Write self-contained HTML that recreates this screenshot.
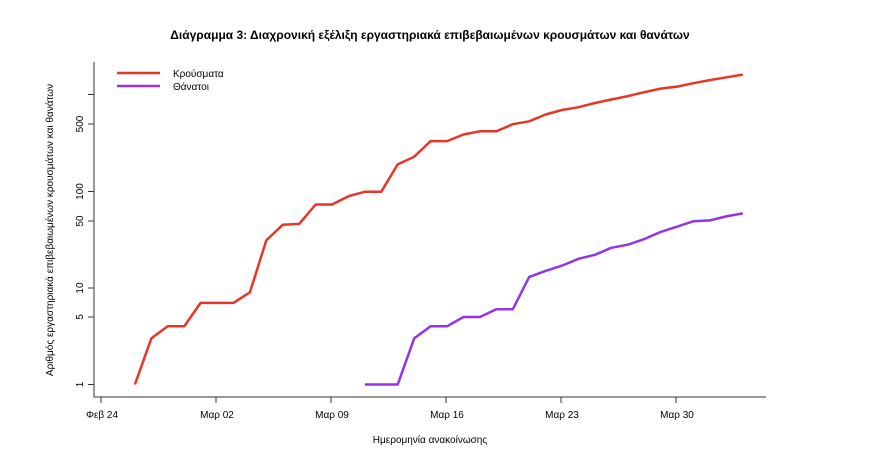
<!DOCTYPE html>
<html><head><meta charset="utf-8"><style>body{margin:0;background:#fff}svg{display:block}text{font-family:"Liberation Sans",sans-serif;fill:#000}</style></head><body>
<svg width="870" height="468" viewBox="0 0 870 468" xmlns="http://www.w3.org/2000/svg">
<text x="430" y="39" font-size="12" font-weight="bold" text-anchor="middle">Διάγραμμα 3: Διαχρονική εξέλιξη εργαστηριακά επιβεβαιωμένων κρουσμάτων και θανάτων</text>
<g stroke="#333" stroke-width="1" fill="none">
<path d="M94,62V397H766"/>
<path d="M94,384.5h-6M94,317h-6M94,288h-6M94,221h-6M94,191.5h-6M94,124h-6M94,94.5h-6"/>
<path d="M101,397v6M216,397v6M331,397v6M446,397v6M561,397v6M676,397v6"/>
</g>
<g font-size="10" text-anchor="middle">
<text transform="translate(83,384.5) rotate(-90)">1</text>
<text transform="translate(83,317) rotate(-90)">5</text>
<text transform="translate(83,288) rotate(-90)">10</text>
<text transform="translate(83,221) rotate(-90)">50</text>
<text transform="translate(83,191.5) rotate(-90)">100</text>
<text transform="translate(83,124) rotate(-90)">500</text>
<text x="102" y="418">Φεβ 24</text>
<text x="217" y="418">Μαρ 02</text>
<text x="332" y="418">Μαρ 09</text>
<text x="447" y="418">Μαρ 16</text>
<text x="562" y="418">Μαρ 23</text>
<text x="677" y="418">Μαρ 30</text>
<text x="430" y="443">Ημερομηνία ανακοίνωσης</text>
<text transform="translate(53,230) rotate(-90)">Αριθμός εργαστηριακά επιβεβαιωμένων κρουσμάτων και θανάτων</text>
</g>
<g fill="none" stroke-width="2.5" stroke-linejoin="round">
<g transform="translate(1,0)">
<polyline stroke="#e8352a" points="133.9,384.5 150.3,338.4 166.7,326.3 183.2,326.3 199.6,302.9 216.0,302.9 232.4,302.9 248.9,292.3 265.3,240.4 281.7,224.8 298.2,223.9 314.6,204.5 331.0,204.5 347.5,196.2 363.9,191.7 380.3,191.7 396.7,164.4 413.2,156.7 429.6,141.1 446.0,141.1 462.5,134.5 478.9,131.3 495.3,131.3 511.8,124.2 528.2,121.3 544.6,114.5 561.0,110.0 577.5,107.2 593.9,103.0 610.3,99.5 626.8,96.1 643.2,92.2 659.6,88.6 676.1,86.6 692.5,83.2 708.9,80.1 725.3,77.3 741.8,74.6"/>
<polyline stroke="#9333ea" points="363.9,384.5 380.3,384.5 396.7,384.5 413.2,338.4 429.6,326.3 446.0,326.3 462.5,317.0 478.9,317.0 495.3,309.3 511.8,309.3 528.2,276.9 544.6,270.9 561.0,265.6 577.5,258.8 593.9,254.8 610.3,247.8 626.8,244.7 643.2,239.1 659.6,231.9 676.1,226.7 692.5,221.2 708.9,220.4 725.3,216.4 741.8,213.4"/>
</g>
<path d="M117,73H160" stroke="#e8352a"/>
<path d="M117,86H160" stroke="#9333ea"/>
</g>
<text x="173" y="77" font-size="10">Κρούσματα</text>
<text x="173" y="90" font-size="10">Θάνατοι</text>
</svg>
</body></html>
